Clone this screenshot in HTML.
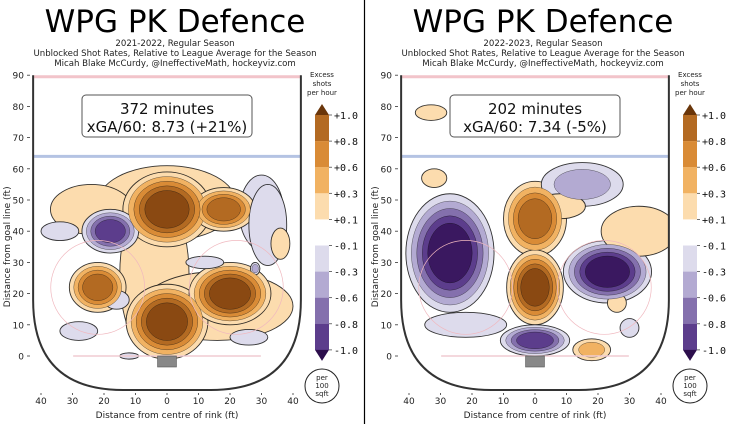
<!DOCTYPE html>
<html><head><meta charset="utf-8"><style>
html,body{margin:0;padding:0;background:#fff;}
svg{display:block;font-family:"DejaVu Sans","Liberation Sans",sans-serif;}
</style></head><body>
<svg id="s" width="730" height="424" viewBox="0 0 730 424" xmlns="http://www.w3.org/2000/svg">
<line x1="364.5" y1="0" x2="364.5" y2="424" stroke="#000" stroke-width="1.2"/>
</svg>
<script>
// Panel metadata
const panelTitles = ["WPG PK Defence","WPG PK Defence"];
const panelSeasons = ["2021-2022, Regular Season","2022-2023, Regular Season"];
const panelMinutes = ["372 minutes","202 minutes"];
const panelXga = ["xGA/60: 8.73 (+21%)","xGA/60: 7.34 (-5%)"];
const xTicks = [-40,-30,-20,-10,0,10,20,30,40];
const yTicks = [0,10,20,30,40,50,60,70,80,90];
const cbLevels = ["+1.0","+0.8","+0.6","+0.3","+0.1","-0.1","-0.3","-0.6","-0.8","-1.0"];
// Blob data per panel (feet): centre x, centre y, radius x, radius y, signed level
const leftX   = [0, -24, -4, 16, 30, 0, 18, 0, 20, -22, -18, -34, 32, -16, -28, 26, -12, 36, 28, 12];
const leftY   = [49, 47, 26, 16, 46, 47, 47, 11, 20, 22, 40, 40, 42, 18, 8, 6, 0, 36, 28, 30];
const leftRX  = [22, 13, 11, 24, 7, 14, 10, 13, 13, 9, 9, 6, 6, 4, 6, 6, 3, 3, 1.5, 6];
const leftRY  = [12, 8, 26, 11, 12, 12, 7, 12, 10, 8, 7, 3, 13, 3, 3, 2.5, 1, 5, 2, 2];
const leftLev = [1, 1, 1, 1, -1, 5, 4, 5, 5, 4, -4, -1, -1, -1, -1, -1, -1, 1, -2, -1];
const rightX   = [-27, 23, 0, 0, 0, -33, -32, 15, 33, 26, 18, -22, 30, 8];
const rightY   = [33, 27, 44, 22, 5, 78, 57, 55, 40, 17, 2, 10, 9, 48];
const rightRX  = [14, 14, 10, 9, 11, 5, 4, 13, 12, 3, 6, 13, 3, 8];
const rightRY  = [19, 10, 12, 12, 5, 2.5, 3, 7, 8, 3, 3.5, 4, 3, 4];
const rightLev = [-5, -5, 4, 5, -4, 1, 1, -2, 1, 1, 2, -1, -1, 1];

const posCols = ["#fcdcae","#f1b262","#d98b36","#b36a22","#8a4912"];
const negCols = ["#dddbec","#b3aad2","#8470ad","#5c3d8c","#3a1860"];
const NS = "http://www.w3.org/2000/svg";
const svg = document.getElementById("s");
function mk(tag, attrs, parent){const e=document.createElementNS(NS,tag);for(const k in attrs)e.setAttribute(k,attrs[k]);(parent||svg).appendChild(e);return e;}
function txt(str, attrs, parent){const t=mk("text",attrs,parent);t.textContent=str;return t;}

function drawPanel(p, ox, bx, by, brx, bry, blev){
  const sx = f => ox + 167 + f*3.15;
  const sy = f => 356 - f*3.12;
  const g = mk("g",{});
  
  
  const cx = ox+167;
  const t1 = txt(panelTitles[p],{x:cx+8,y:32,"font-size":31,"text-anchor":"middle",fill:"#000"},g);
  
  
  const subs=[panelSeasons[p],"Unblocked Shot Rates, Relative to League Average for the Season","Micah Blake McCurdy, @IneffectiveMath, hockeyviz.com"];
  subs.forEach((s,i)=>{const t=txt(s,{x:cx+8,y:46+i*10,"font-size":8.6,"text-anchor":"middle",fill:"#222"},g);
    
    });
  const L=sx(-42.5), R=sx(42.5), T=sy(90), B=390, rr=90;
  const d=`M${L},${T} L${L},${B-rr} Q${L},${B} ${L+rr},${B} L${R-rr},${B} Q${R},${B} ${R},${B-rr} L${R},${T} Z`;
  const cp=mk("clipPath",{id:"clip"+p},g); mk("path",{d:d},cp);
  const hm=mk("g",{"clip-path":`url(#clip${p})`},g);
  
  
  const maxN=5;
  for(let k=0;k<maxN;k++){
    bx.forEach((_,i)=>{
      const n=Math.abs(blev[i]); if(k>=n) return;
      const cols=blev[i]>0?posCols:negCols;
      const sc=1-k*0.62/n;
      const e=mk("ellipse",{cx:sx(bx[i]),cy:sy(by[i]),rx:brx[i]*3.15*sc,ry:bry[i]*3.12*sc,fill:cols[k],stroke:"#111","stroke-width":k===0?0.9:0.5,"stroke-opacity":k===0?0.85:0.6},hm);
      
      
    });
  }
  [-22,22].forEach(fx=>{const c=mk("circle",{cx:sx(fx),cy:sy(22),r:15*3.13,fill:"none",stroke:"#f0b8bf","stroke-width":0.7},g);
    
    });
  const gl=mk("line",{x1:L+40,y1:sy(0),x2:R-40,y2:sy(0),stroke:"#f0ccd2","stroke-width":1.5},g);
  
  
  const bl=mk("line",{x1:L,y1:sy(64),x2:R,y2:sy(64),stroke:"#b4c3e3","stroke-width":3},g);
  
  
  const rl=mk("line",{x1:L,y1:sy(89.5),x2:R,y2:sy(89.5),stroke:"#f2c4ca","stroke-width":3},g);
  
  
  const net=mk("rect",{x:sx(-3),y:sy(0),width:6*3.15,height:11,fill:"#888",stroke:"#555","stroke-width":0.6},g);
  
  
  const boards=mk("path",{d:`M${L},${T} L${L},${B-rr} Q${L},${B} ${L+rr},${B} L${R-rr},${B} Q${R},${B} ${R},${B-rr} L${R},${T}`,fill:"none",stroke:"#333","stroke-width":2},g);
  
  
  yTicks.forEach(v=>{const t=txt(String(v),{x:ox+24,y:sy(v)+3.5,"font-size":9,"text-anchor":"end",fill:"#222"},g);
    
    
    mk("line",{x1:ox+27,y1:sy(v),x2:ox+30,y2:sy(v),stroke:"#333","stroke-width":0.8},g);});
  xTicks.forEach(v=>{const t=txt(String(Math.abs(v)),{x:sx(v),y:404,"font-size":9,"text-anchor":"middle",fill:"#222"},g);
    
    
    mk("line",{x1:sx(v),y1:393,x2:sx(v),y2:395,stroke:"#333","stroke-width":0.8},g);});
  const xt=txt("Distance from centre of rink (ft)",{x:cx,y:418,"font-size":9,"text-anchor":"middle",fill:"#222"},g);
  
  
  const yt=txt("Distance from goal line (ft)",{x:0,y:0,"font-size":9,"text-anchor":"middle",fill:"#222",transform:`translate(${ox+10},${sy(35)}) rotate(-90)`},g);
  
  
  const bxL=ox+82, bw=170;
  const box=mk("rect",{x:bxL,y:95,width:bw,height:42,rx:4,fill:"#fff",stroke:"#555","stroke-width":1},g);
  
  
  const m=txt(panelMinutes[p],{x:bxL+bw/2,y:114,"font-size":15,"text-anchor":"middle",fill:"#111"},g);
  
  
  const xg=txt(panelXga[p],{x:bxL+bw/2,y:132,"font-size":15,"text-anchor":"middle",fill:"#111"},g);
  
  
  const cbx=ox+315, cbw=14, ly=i=>115+i*26.1;
  const cbc=["#8a4912","#b36a22","#d98b36","#f1b262","#fcdcae","#ffffff","#dddbec","#b3aad2","#8470ad","#5c3d8c","#3a1860"];
  const cb=mk("g",{},g);
  
  
  mk("polygon",{points:`${cbx},${ly(0)} ${cbx+cbw/2},${ly(0)-11} ${cbx+cbw},${ly(0)}`,fill:"#6a360a"},cb);
  for(let i=0;i<9;i++){mk("rect",{x:cbx,y:ly(i),width:cbw,height:26.2,fill:cbc[i+1]},cb);}
  mk("polygon",{points:`${cbx},${ly(9)} ${cbx+cbw/2},${ly(9)+11} ${cbx+cbw},${ly(9)}`,fill:"#2c0e4c"},cb);
  cbLevels.forEach((s,i)=>{const t=txt(s,{x:cbx+cbw+5,y:ly(i)+4,"font-size":10,"font-family":"DejaVu Sans Mono,Liberation Mono,monospace",fill:"#111"},cb);
    
    
    mk("line",{x1:cbx+cbw,y1:ly(i),x2:cbx+cbw+3,y2:ly(i),stroke:"#333","stroke-width":0.7},cb);});
  ["Excess","shots","per hour"].forEach((s,i)=>{const t=txt(s,{x:cbx+7,y:77+i*9,"font-size":7,"text-anchor":"middle",fill:"#222"},g);
    
    });
  const uc=mk("circle",{cx:cbx+7,cy:386,r:17,fill:"#fff",stroke:"#222","stroke-width":1},g);
  
  
  ["per","100","sqft"].forEach((s,i)=>{const t=txt(s,{x:cbx+7,y:380+i*8,"font-size":7,"text-anchor":"middle",fill:"#222"},g);
    
    });
}
drawPanel(0,0,leftX,leftY,leftRX,leftRY,leftLev);
drawPanel(1,368,rightX,rightY,rightRX,rightRY,rightLev);
</script>
</body></html>
